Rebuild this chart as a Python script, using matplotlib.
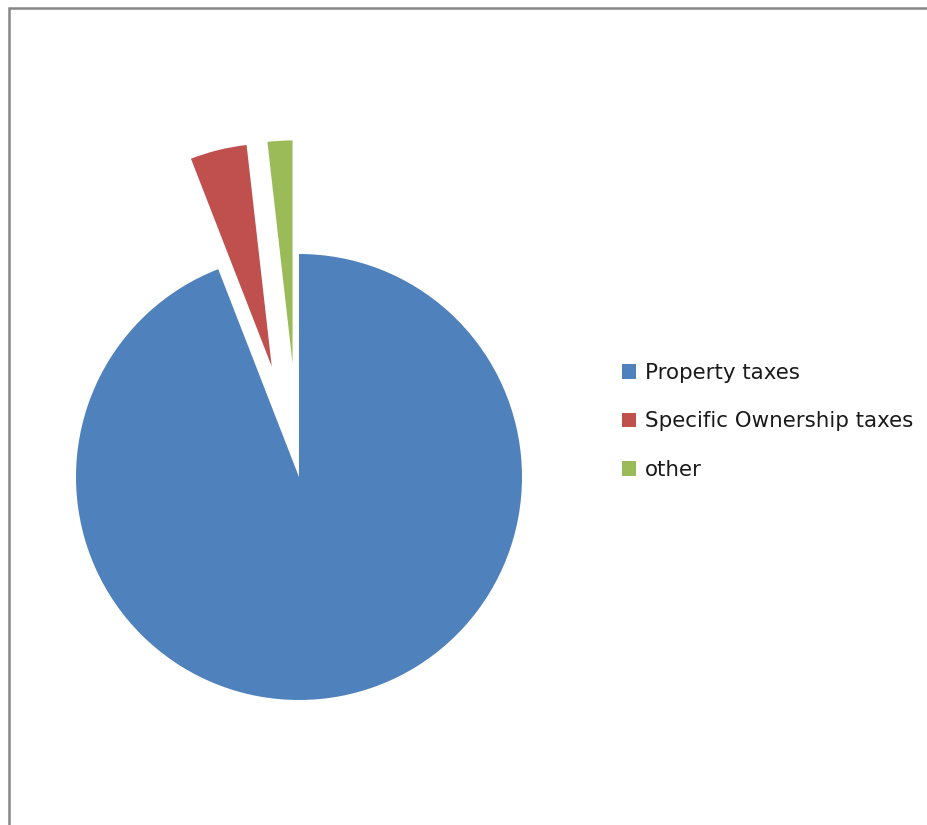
import matplotlib.pyplot as plt
from matplotlib.patches import Rectangle

# share of revenue (percent)
labels = ["Property taxes", "Specific Ownership taxes", "other"]
shares = [94.1, 4.1, 1.8]
colors = ["#4F81BD", "#C0504D", "#9BBB59"]
explode = [0, 0.51, 0.51]

fig = plt.figure(figsize=(9.28, 8.25), dpi=100)
fig.patch.set_facecolor("white")

ax = fig.add_axes([0, 0, 1, 1])
wedges, _ = ax.pie(shares, colors=colors, explode=explode, startangle=90,
                   counterclock=False, radius=1.0)

# pixel layout: centre at (299, 477), radius 223 px
r_px = 223.0
cx, cy = 299.0, 477.0
ax.set_xlim(-cx / r_px, (928 - cx) / r_px)
ax.set_ylim(-(825 - cy) / r_px, cy / r_px)
ax.set_aspect("auto")
ax.axis("off")

# grey frame around the chart area (runs off the right and bottom edge)
frame = Rectangle((9 / 928, -0.05), 1.2, 1 - 8 / 825 + 0.05,
                  transform=fig.transFigure, fill=False,
                  edgecolor="#878787", linewidth=1.8, zorder=10)
fig.patches.append(frame)

leg = fig.legend(wedges, labels, loc="upper left",
                 bbox_to_anchor=(622 / 928, 1 - 363 / 825),
                 frameon=False, fontsize=15.4, handlelength=0.65,
                 handleheight=0.65, handletextpad=0.42, labelspacing=1.33,
                 borderaxespad=0, borderpad=0)
for t in leg.get_texts():
    t.set_color("#1a1a1a")

fig.savefig("out.png", dpi=100)
